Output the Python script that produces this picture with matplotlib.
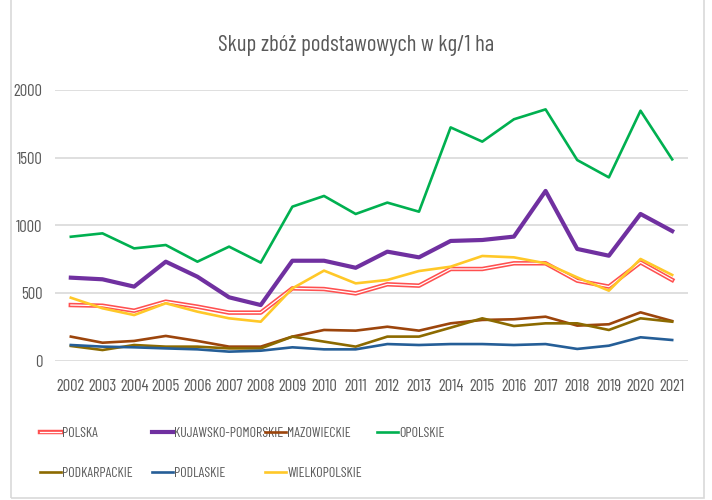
import matplotlib.pyplot as plt
import matplotlib.patheffects as pe
from matplotlib.patches import Rectangle

years = list(range(2002, 2022))

polska = [413, 408, 371, 438, 401, 357, 357, 536, 531, 499, 566, 556, 679, 679, 721, 721, 593, 549, 728, 598]
kujawsko_pomorskie = [615, 603, 549, 733, 622, 470, 413, 740, 740, 688, 807, 765, 886, 893, 918, 1255, 827, 777, 1085, 959]
mazowieckie = [180, 135, 148, 185, 148, 106, 106, 180, 229, 224, 253, 224, 278, 303, 308, 327, 261, 271, 359, 295]
opolskie = [917, 942, 831, 856, 733, 844, 726, 1139, 1218, 1085, 1169, 1102, 1724, 1619, 1784, 1857, 1483, 1355, 1847, 1488]
podkarpackie = [111, 81, 118, 106, 106, 93, 93, 180, 143, 106, 180, 180, 246, 315, 258, 278, 278, 229, 315, 290]
podlaskie = [118, 106, 101, 93, 86, 69, 76, 101, 86, 86, 125, 118, 125, 125, 118, 125, 89, 113, 175, 155]
wielkopolskie = [467, 389, 339, 426, 364, 315, 290, 536, 667, 573, 598, 664, 696, 775, 765, 721, 617, 519, 753, 635]

plt.rcParams['font.family'] = ['Barlow Condensed', 'Liberation Sans', 'DejaVu Sans']
txt = '#595959'

fig = plt.figure(figsize=(7.12, 5), dpi=100)
fig.patches.append(Rectangle((11 / 712, 0.004), 693 / 712, 1.2, transform=fig.transFigure,
                             fill=False, edgecolor='#D9D9D9', linewidth=1.2))
ax = fig.add_axes([55 / 712, 139 / 500, 633 / 712, 271 / 500])

lw = 1.9
lines = {}
lines['POLSKA'] = ax.plot(years, polska, color='white', lw=0.9,
                          path_effects=[pe.Stroke(linewidth=3.2, foreground='#FF5050'), pe.Normal()])[0]
lines['KUJAWSKO-POMORSKIE'] = ax.plot(years, kujawsko_pomorskie, color='#7030A0', lw=3.0)[0]
lines['MAZOWIECKIE'] = ax.plot(years, mazowieckie, color='#9C450C', lw=lw)[0]
lines['OPOLSKIE'] = ax.plot(years, opolskie, color='#00B050', lw=lw)[0]
lines['PODKARPACKIE'] = ax.plot(years, podkarpackie, color='#8C6A00', lw=lw)[0]
lines['PODLASKIE'] = ax.plot(years, podlaskie, color='#255E97', lw=lw)[0]
lines['WIELKOPOLSKIE'] = ax.plot(years, wielkopolskie, color='#FFC828', lw=lw)[0]

ax.set_xlim(2001.5, 2021.5)
ax.set_ylim(0, 2000)
ax.set_yticks([0, 500, 1000, 1500, 2000])
ax.set_xticks(years)
ax.tick_params(length=0, colors=txt, labelsize=12)
ax.tick_params(axis='x', pad=13)
ax.tick_params(axis='y', pad=9)
ax.grid(axis='y', color='#D9D9D9', lw=1.2)
ax.set_axisbelow(True)
for s in ax.spines.values():
    s.set_visible(False)

fig.text(0.5, 0.91, 'Skup zbóż podstawowych w kg/1 ha', ha='center', va='center',
         fontsize=16.5, color=txt)

# legenda: cztery kolumny w stałych odstępach, jak w Excelu
columns = [['POLSKA', 'PODKARPACKIE'], ['KUJAWSKO-POMORSKIE', 'PODLASKIE'],
           ['MAZOWIECKIE', 'WIELKOPOLSKIE'], ['OPOLSKIE']]
col_x = [40, 152, 265, 377]
for names, x in zip(columns, col_x):
    fig.legend([lines[k] for k in names], names, loc='upper left',
               bbox_to_anchor=(x / 712, 1 - 427 / 500), frameon=False,
               fontsize=10, labelcolor=txt, handlelength=1.5, handletextpad=0.1,
               labelspacing=1.95, borderpad=0, borderaxespad=0)

fig.savefig('out.png', dpi=100)
